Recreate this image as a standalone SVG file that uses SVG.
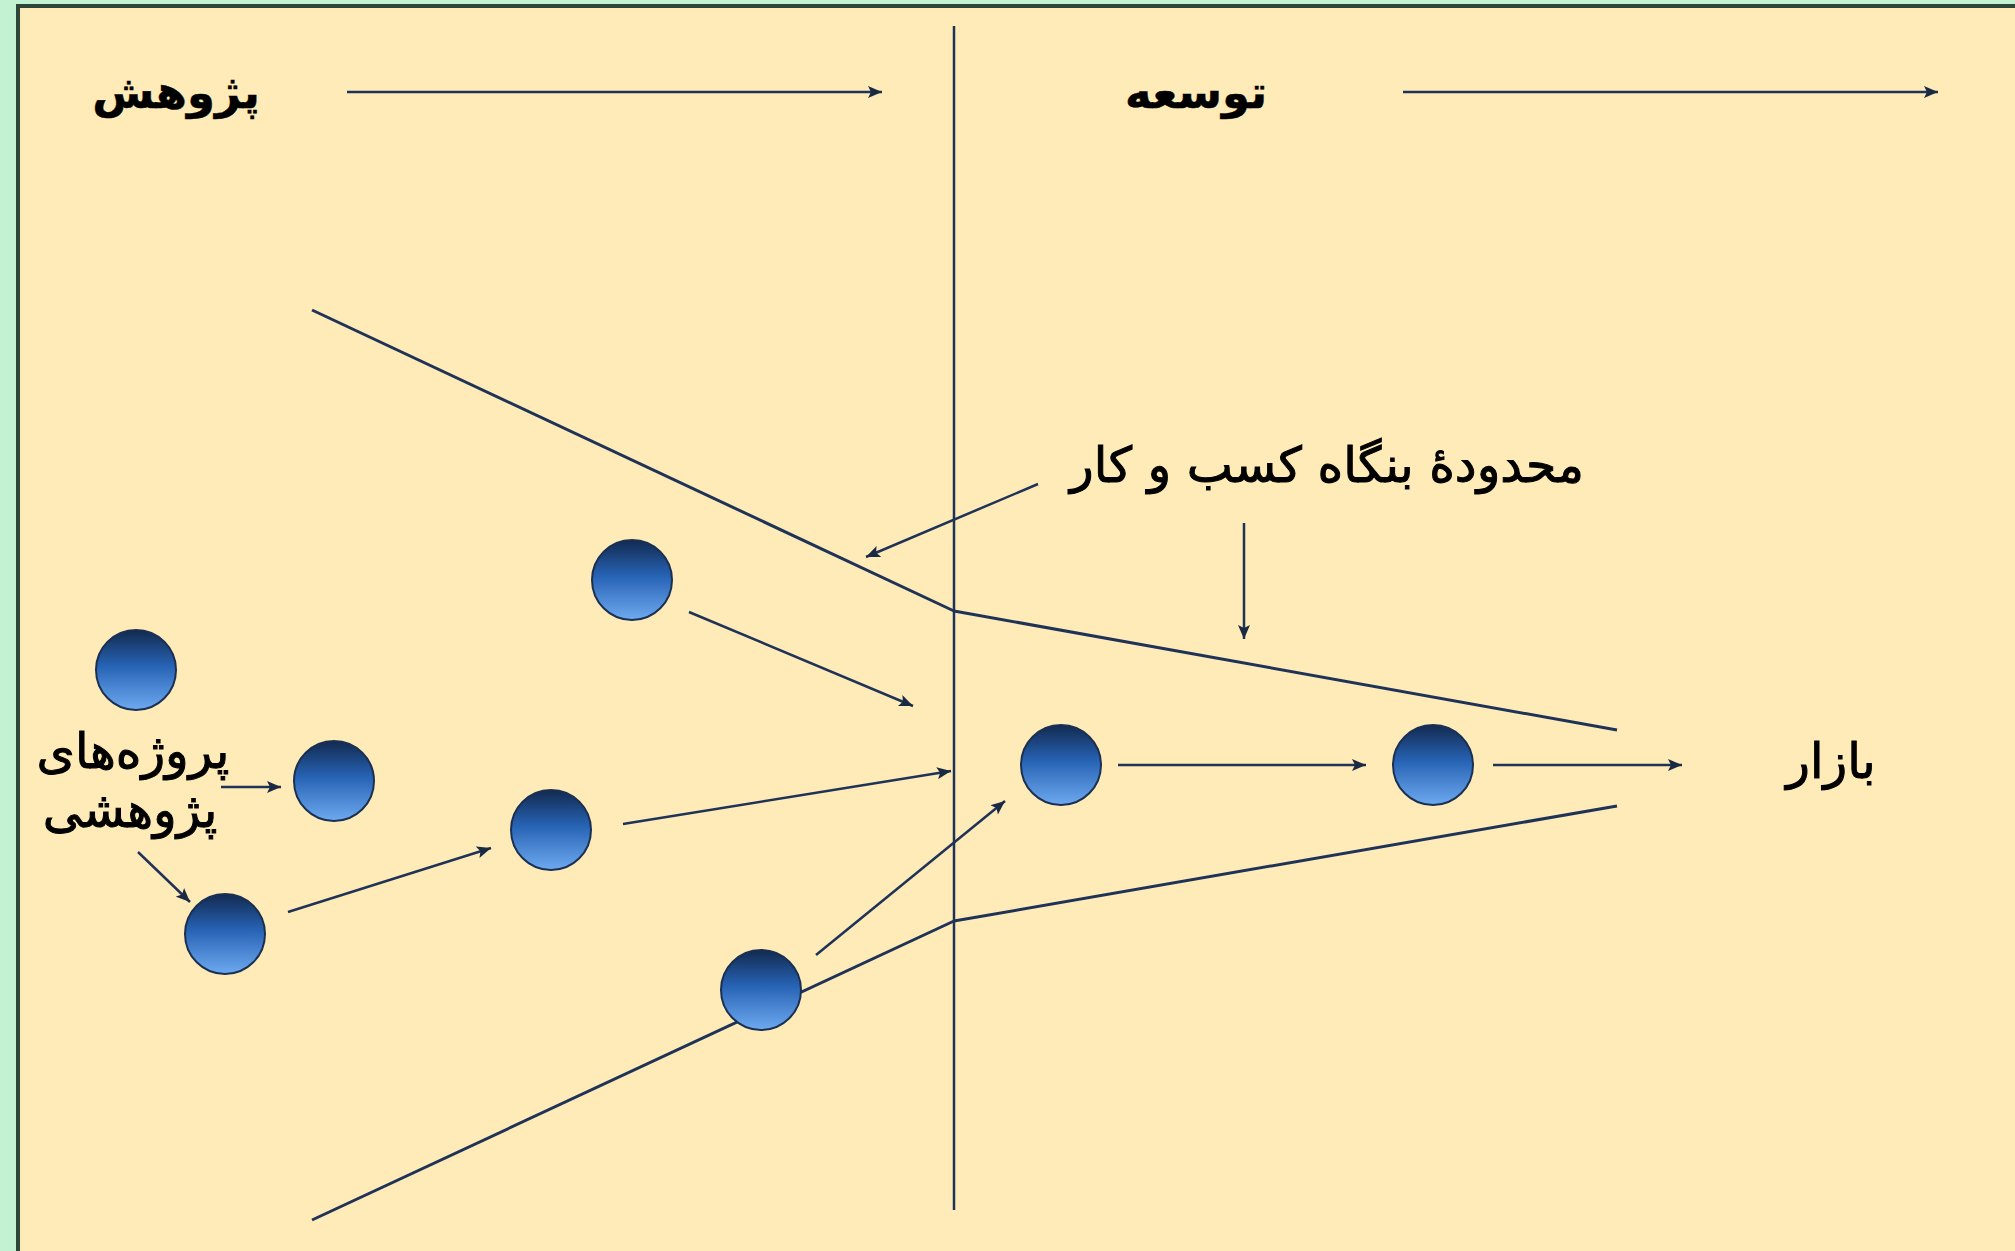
<svg xmlns="http://www.w3.org/2000/svg" width="2015" height="1251" viewBox="0 0 2015 1251">
<defs>
<linearGradient id="ball" x1="0" y1="0" x2="0" y2="1">
<stop offset="0" stop-color="#122a50"/>
<stop offset="0.45" stop-color="#2763b4"/>
<stop offset="1" stop-color="#6eaaf0"/>
</linearGradient>
<marker id="ah" markerUnits="userSpaceOnUse" markerWidth="16" markerHeight="12" refX="14" refY="6" orient="auto">
<path d="M0,0 L14,6 L0,12 L3,6 Z" fill="#1b2a44"/>
</marker>
<style>
.ln{stroke:#1f3358;stroke-width:2.5;fill:none}
.fn{stroke:#1f3358;stroke-width:3;fill:none}
.ar{stroke:#1f3358;stroke-width:2.5;fill:none;marker-end:url(#ah)}
.ball{fill:url(#ball);stroke:#1a3052;stroke-width:2}
.t{font-family:"DejaVu Sans",sans-serif;fill:#000;text-anchor:middle;direction:rtl;stroke:#000;stroke-width:1}
.h{font-size:45px;font-weight:bold;stroke-width:0.5}
.m{font-size:49px}
</style>
</defs>
<rect x="0" y="0" width="2015" height="1251" fill="#c3f2d3"/>
<rect x="18" y="6" width="1997" height="1245" fill="#ffebb7"/>
<path d="M18,1251 L18,6 L2015,6" stroke="#2e4638" stroke-width="4" fill="none"/>

<g id="frame">
<line class="ln" x1="954" y1="26" x2="954" y2="1210"/>
<line class="fn" x1="312" y1="310" x2="954" y2="611"/>
<line class="fn" x1="954" y1="611" x2="1617" y2="730"/>
<line class="fn" x1="312" y1="1220" x2="954" y2="921"/>
<line class="fn" x1="954" y1="921" x2="1617" y2="806"/>
</g>

<g id="connectors">
<line class="ar" x1="347" y1="92" x2="882" y2="92"/>
<line class="ar" x1="1403" y1="92" x2="1938" y2="92"/>
<line class="ar" x1="1038" y1="484" x2="866" y2="557"/>
<line class="ar" x1="1244" y1="523" x2="1244" y2="639"/>
<line class="ar" x1="689" y1="612" x2="913" y2="706"/>
<line class="ar" x1="623" y1="824" x2="951" y2="771"/>
<line class="ar" x1="288" y1="912" x2="491" y2="848"/>
<line class="ar" x1="221" y1="787" x2="281" y2="787"/>
<line class="ar" x1="138" y1="852" x2="190" y2="902"/>
<line class="ar" x1="816" y1="955" x2="1005" y2="801"/>
<line class="ar" x1="1118" y1="765" x2="1366" y2="765"/>
<line class="ar" x1="1493" y1="765" x2="1682" y2="765"/>
</g>

<g id="node-b1"><circle class="ball" cx="136" cy="670" r="40"/></g>
<g id="node-b2"><circle class="ball" cx="632" cy="580" r="40"/></g>
<g id="node-b3"><circle class="ball" cx="334" cy="781" r="40"/></g>
<g id="node-b4"><circle class="ball" cx="551" cy="830" r="40"/></g>
<g id="node-b5"><circle class="ball" cx="225" cy="934" r="40"/></g>
<g id="node-b6"><circle class="ball" cx="761" cy="990" r="40"/></g>
<g id="node-b7"><circle class="ball" cx="1061" cy="765" r="40"/></g>
<g id="node-b8"><circle class="ball" cx="1433" cy="765" r="40"/></g>

<g id="label-research"><text class="t h" x="176" y="108">پژوهش</text></g>
<g id="label-development"><text class="t h" x="1196" y="108">توسعه</text></g>
<g id="label-boundary"><text class="t m" x="1327" y="482">محدودهٔ بنگاه کسب و کار</text></g>
<g id="label-market"><text class="t m" x="1831" y="778">بازار</text></g>
<g id="label-projects"><text class="t m" x="133" y="768">پروژه‌های</text><text class="t m" x="130" y="827">پژوهشی</text></g>
</svg>
